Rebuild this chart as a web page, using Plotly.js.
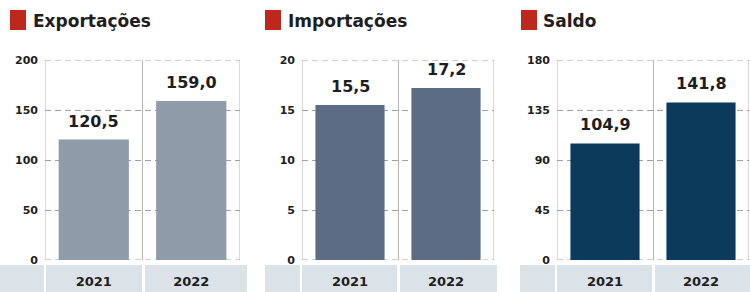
<!DOCTYPE html>
<html>
<head>
<meta charset="utf-8">
<script src="https://cdn.plot.ly/plotly-3.0.1.min.js"></script>
<style>
html,body{margin:0;padding:0;background:#fff;}
#chart{width:750px;height:292px;}
</style>
</head>
<body>
<div id="chart"></div>
<script>
const years = ['2021', '2022'];
const titles = ['Exportações', 'Importações', 'Saldo'];
const exportacoes = [120.5, 159.0];
const importacoes = [15.5, 17.2];
const saldo = [104.9, 141.8];
const ticksExport = [0, 50, 100, 150, 200];
const ticksImport = [0, 5, 10, 15, 20];
const ticksSaldo = [0, 45, 90, 135, 180];

const W = 750, H = 292;
const series = [exportacoes, importacoes, saldo];
const ticks = [ticksExport, ticksImport, ticksSaldo];
const colors = ['#8e9ba8', '#5b6c84', '#0c3a5b'];
const plotX = [[45, 240], [302, 494], [557, 749]];
const plotTop = 60, plotBot = 260;
const bandCells = [[[0,44],[46,142],[145,247]], [[265,300],[302,397],[400,497]], [[520,555],[557,652],[655,750]]];
const squares = [[10, 26], [265, 281], [521, 537]];
const titleX = [31, 286, 541];
const FONT = 'DejaVu Sans';
const GRID = '#a0a0a0', VLINE = '#b5b5b5', DASH = '6px,4px';

const fmt = v => v.toFixed(1).replace('.', ',');
const traces = [], shapes = [], annotations = [];
const layout = {
  width: W, height: H,
  margin: {l: 0, r: 0, t: 0, b: 0},
  paper_bgcolor: '#fff', plot_bgcolor: 'rgba(0,0,0,0)',
  showlegend: false,
  separators: ',.'
};

series.forEach((vals, i) => {
  const n = i === 0 ? '' : String(i + 1);
  const xa = 'x' + n, ya = 'y' + n;
  traces.push({
    type: 'bar', x: years, y: vals,
    xaxis: xa, yaxis: ya,
    marker: {color: colors[i], line: {width: 0}},
    width: 0.72, hoverinfo: 'skip'
  });
  layout['xaxis' + n] = {
    domain: [plotX[i][0] / W, plotX[i][1] / W],
    anchor: ya,
    type: 'category',
    range: [-0.5, 1.5],
    tickson: 'boundaries',
    showgrid: true, gridcolor: VLINE, gridwidth: 1,
    showline: false, zeroline: false,
    ticks: '', ticklabelstandoff: 12,
    tickfont: {family: FONT, size: 13, color: '#1e1e1e', weight: 'bold'},
    fixedrange: true
  };
  const t = ticks[i];
  const lo = t[0], hi = t[t.length - 1];
  layout['yaxis' + n] = {
    domain: [(H - plotBot) / H, (H - plotTop) / H],
    anchor: xa,
    range: [lo, hi],
    tickvals: t, ticktext: t.map(String),
    showgrid: true, gridcolor: GRID, gridwidth: 1, griddash: DASH,
    zeroline: false, showline: false,
    ticks: '', ticklabelstandoff: 6,
    tickfont: {family: FONT, size: 11, color: '#1e1e1e', weight: 'bold'},
    fixedrange: true
  };
  // edge grid lines (Plotly drops grid lines lying on the plot edges)
  [lo, hi].forEach(v => shapes.push({
    type: 'line', xref: xa + ' domain', yref: ya, layer: 'below',
    x0: 0, x1: 1, y0: v, y1: v,
    line: {color: GRID, width: 1, dash: DASH}
  }));
  [-0.5, 1.5].forEach(c => shapes.push({
    type: 'line', xref: xa, yref: ya + ' domain', layer: 'below',
    x0: c, x1: c, y0: 0, y1: 1,
    line: {color: VLINE, width: 1}
  }));
  vals.forEach((v, j) => {
    annotations.push({
      xref: xa, yref: ya, x: j, y: v,
      text: fmt(v), showarrow: false, yanchor: 'bottom', yshift: 7,
      font: {family: FONT, size: 16, color: '#1e1e1e', weight: 'bold'}
    });
  });
  bandCells[i].forEach(c => {
    shapes.push({
      type: 'rect', xref: 'paper', yref: 'paper', layer: 'below',
      x0: c[0] / W, x1: c[1] / W, y0: 0, y1: (H - 265) / H,
      fillcolor: '#dbe2e8', line: {width: 0}
    });
  });
  shapes.push({
    type: 'rect', xref: 'paper', yref: 'paper',
    x0: squares[i][0] / W, x1: squares[i][1] / W,
    y0: (H - 30) / H, y1: (H - 10) / H,
    fillcolor: '#bd281c', line: {width: 0}
  });
  annotations.push({
    xref: 'paper', yref: 'paper', x: titleX[i] / W, y: (H - 21) / H,
    xanchor: 'left', yanchor: 'middle', showarrow: false,
    text: titles[i],
    font: {family: FONT, size: 17, color: '#1e1e1e', weight: 'bold'}
  });
});
layout.shapes = shapes;
layout.annotations = annotations;
Plotly.newPlot('chart', traces, layout, {displayModeBar: false, staticPlot: true});
</script>
</body>
</html>
